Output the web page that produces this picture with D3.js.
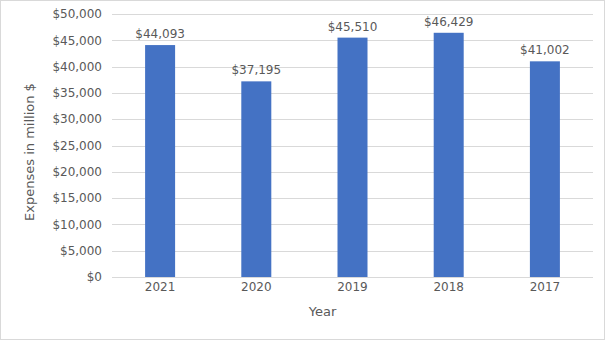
<!DOCTYPE html>
<html><head><meta charset="utf-8">
<script src="https://cdn.jsdelivr.net/npm/d3@7"></script>
<style>body{margin:0;background:#fff}svg{display:block}text{font-family:"DejaVu Sans",sans-serif;fill:#595959}</style>
</head><body>
<script>
const years = ["2021","2020","2019","2018","2017"];
const expenses = [44093, 37195, 45510, 46429, 41002];
const yTicks = [0,5000,10000,15000,20000,25000,30000,35000,40000,45000,50000];

const W=605,H=340;
const svg=d3.select("body").append("svg").attr("width",W).attr("height",H);
svg.append("rect").attr("x",0.5).attr("y",0.5).attr("width",W-1).attr("height",H-1).attr("fill","#fff").attr("stroke","#d9d9d9");
const pLeft=112,pRight=593,pTop=14,pBottom=277;
const x=d3.scaleBand().domain(years).range([pLeft,pRight]).paddingInner(0.6875).paddingOuter(0.34375);
const y=d3.scaleLinear().domain([0,50000]).range([pBottom,pTop]);
const fmt=d=>"$"+d3.format(",")(d);

svg.append("g").selectAll("line").data(yTicks).join("line")
 .attr("x1",pLeft).attr("x2",pRight).attr("y1",d=>Math.round(y(d))+0.5).attr("y2",d=>Math.round(y(d))+0.5)
 .attr("stroke","#d9d9d9").attr("stroke-width",1);
svg.append("g").selectAll("text").data(yTicks).join("text")
 .attr("x",102).attr("y",d=>y(d)).attr("dy","0.35em").attr("text-anchor","end").attr("font-size",12).text(fmt);

const bw=30;
svg.append("g").selectAll("rect").data(years).join("rect")
 .attr("x",(d)=>x(d)+x.bandwidth()/2-bw/2).attr("width",bw)
 .attr("y",(d,i)=>y(expenses[i])).attr("height",(d,i)=>pBottom-y(expenses[i]))
 .attr("fill","#4472c4");
svg.append("g").selectAll("text").data(years).join("text")
 .attr("x",d=>x(d)+x.bandwidth()/2).attr("y",(d,i)=>y(expenses[i])-7)
 .attr("text-anchor","middle").attr("font-size",12).attr("fill","#404040").text((d,i)=>fmt(expenses[i]));
svg.append("g").selectAll("text").data(years).join("text")
 .attr("x",d=>x(d)+x.bandwidth()/2).attr("y",291)
 .attr("text-anchor","middle").attr("font-size",12).text(d=>d);

svg.append("text").attr("x",322.5).attr("y",316).attr("text-anchor","middle").attr("font-size",13).text("Year");
svg.append("text").attr("transform","translate(33.5,152) rotate(-90)").attr("text-anchor","middle").attr("font-size",13).text("Expenses in million $");
</script>
</body></html>
